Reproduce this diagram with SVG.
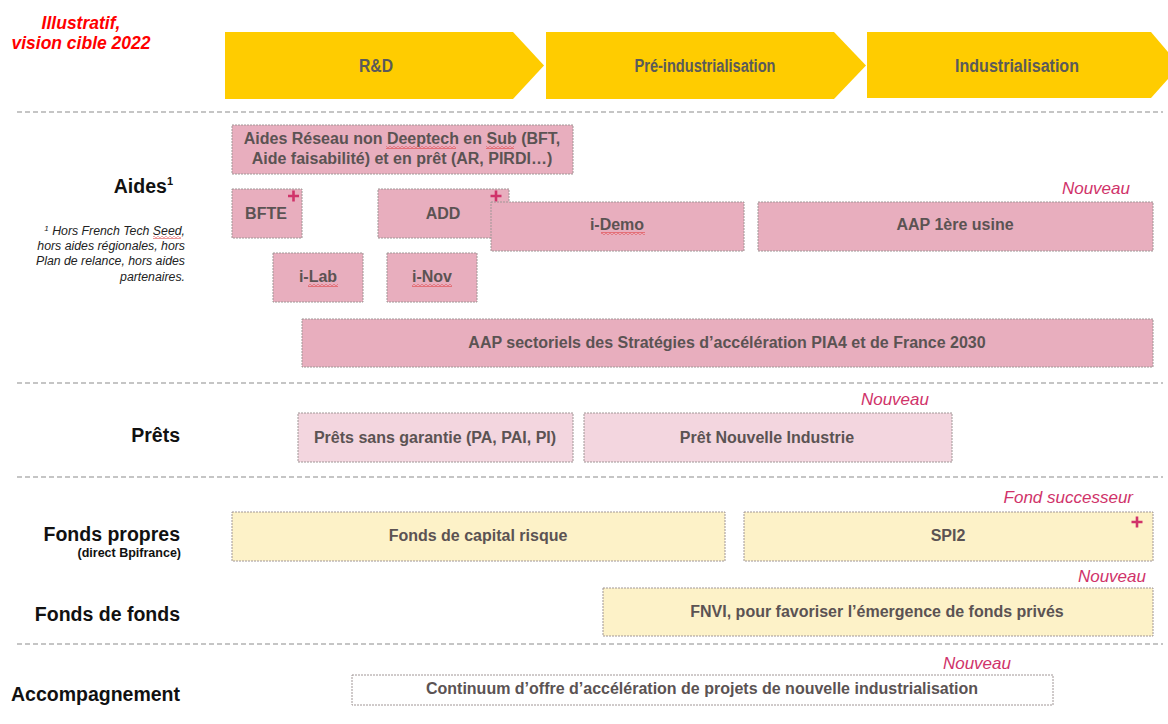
<svg xmlns="http://www.w3.org/2000/svg" width="1168" height="724" viewBox="0 0 1168 724">
<defs>
<pattern id="wavy" x="0" y="0" width="4" height="3" patternUnits="userSpaceOnUse">
<path d="M0,0.6 L2,2.4 L4,0.6" stroke="#e03030" stroke-width="0.9" fill="none"/>
</pattern>
</defs>
<style>
.sep{stroke:#8c8c8c;stroke-width:1.2;stroke-dasharray:5 3;fill:none}
.chev{fill:#FFCC00}
.chevt{font-family:"Liberation Sans",Arial,sans-serif;font-weight:bold;font-size:18px;fill:#5a5a5a;text-anchor:middle}
.box{stroke:#a09696;stroke-width:1;stroke-dasharray:2 1}
.pink{fill:#E8AEBE}
.lpink{fill:#F3D6DF}
.yel{fill:#FDF2C8}
.white{fill:#ffffff}
.bt{font-family:"Liberation Sans",Arial,sans-serif;font-weight:bold;font-size:16px;fill:#5b5353;text-anchor:middle}
.lab{font-family:"Liberation Sans",Arial,sans-serif;font-weight:bold;font-size:19.5px;fill:#111;text-anchor:end}
.sub{font-family:"Liberation Sans",Arial,sans-serif;font-weight:bold;font-size:12.5px;fill:#111;text-anchor:end}
.foot{font-family:"Liberation Sans",Arial,sans-serif;font-style:italic;font-size:12.3px;fill:#222;text-anchor:end}
.nv{font-family:"Liberation Sans",Arial,sans-serif;font-style:italic;font-size:17px;fill:#D0336A;text-anchor:end}
.red{font-family:"Liberation Sans",Arial,sans-serif;font-style:italic;font-weight:bold;font-size:17.5px;fill:#FF0000;text-anchor:middle}
.plus{stroke:#D0336A;stroke-width:2.6;fill:none}
.sq{fill:url(#wavy)}
</style>

<g id="title">
<text class="red" x="81" y="29">Illustratif,</text>
<text class="red" x="81" y="49">vision cible 2022</text>
</g>

<g id="phases">
<g id="phase-rd">
<polygon class="chev" points="225,32 513,32 544,65.5 513,99 225,99"/>
<text class="chevt" x="376" y="72" textLength="34" lengthAdjust="spacingAndGlyphs">R&amp;D</text>
</g>
<g id="phase-preind">
<polygon class="chev" points="546,32 834,32 866,65.5 834,99 546,99"/>
<text class="chevt" x="705" y="72" textLength="141" lengthAdjust="spacingAndGlyphs">Pré-industrialisation</text>
</g>
<g id="phase-ind">
<polygon class="chev" points="867,32 1151,32 1168,52 1168,79 1151,98 867,98"/>
<text class="chevt" x="1017" y="72" textLength="124" lengthAdjust="spacingAndGlyphs">Industrialisation</text>
</g>
</g>

<g id="separators">
<line class="sep" x1="17" y1="112" x2="1163" y2="112"/>
<line class="sep" x1="17" y1="383" x2="1163" y2="383"/>
<line class="sep" x1="17" y1="477" x2="1163" y2="477"/>
<line class="sep" x1="17" y1="644" x2="1163" y2="644"/>
</g>

<g id="row-labels">
<text class="lab" x="173" y="193">Aides<tspan font-size="11" dy="-8">1</tspan></text>
<text class="foot" x="185" y="235"><tspan font-size="8" dy="-4">1</tspan><tspan dy="4"> Hors French Tech Seed,</tspan></text>
<rect class="sq" x="153" y="236" width="28" height="3"/>
<text class="foot" x="185" y="250">hors aides régionales, hors</text>
<text class="foot" x="185" y="265">Plan de relance, hors aides</text>
<text class="foot" x="185" y="281">partenaires.</text>
<text class="lab" x="180" y="442">Prêts</text>
<text class="lab" x="180" y="541">Fonds propres</text>
<text class="sub" x="181" y="557">(direct Bpifrance)</text>
<text class="lab" x="180" y="621">Fonds de fonds</text>
<text class="lab" x="180" y="701">Accompagnement</text>
</g>

<g id="aides-reseau">
<rect class="box pink" x="232" y="125" width="341" height="49"/>
<text class="bt" x="402" y="144">Aides Réseau non Deeptech en Sub (BFT,</text>
<text class="bt" x="402" y="164">Aide faisabilité) et en prêt (AR, PIRDI…)</text>
<rect class="sq" x="386" y="146" width="70" height="3"/>
<rect class="sq" x="486" y="146" width="28" height="3"/>
</g>
<g id="bfte">
<rect class="box pink" x="232" y="189" width="70" height="49"/>
<text class="bt" x="266" y="219">BFTE</text>
<path class="plus" d="M288,196H299M293.5,190.5V201.5"/>
</g>
<g id="add">
<rect class="box pink" x="378" y="189" width="131" height="49"/>
<text class="bt" x="443" y="219">ADD</text>
<path class="plus" d="M490.5,196H501.5M496,190.5V201.5"/>
</g>
<g id="i-demo">
<rect class="box pink" x="491" y="202" width="253" height="49"/>
<text class="bt" x="617" y="230">i-Demo</text>
<rect class="sq" x="601" y="232" width="44" height="3"/>
</g>
<g id="aap-usine">
<rect class="box pink" x="758" y="202" width="395" height="49"/>
<text class="bt" x="955" y="230">AAP 1ère usine</text>
<text class="nv" x="1130" y="194">Nouveau</text>
</g>
<g id="i-lab">
<rect class="box pink" x="273" y="253" width="90" height="49"/>
<text class="bt" x="318" y="282">i-Lab</text>
<rect class="sq" x="308" y="284" width="30" height="3"/>
</g>
<g id="i-nov">
<rect class="box pink" x="387" y="253" width="90" height="49"/>
<text class="bt" x="432" y="282">i-Nov</text>
<rect class="sq" x="412" y="284" width="40" height="3"/>
</g>
<g id="aap-sectoriels">
<rect class="box pink" x="302" y="319" width="851" height="48"/>
<text class="bt" x="727" y="348">AAP sectoriels des Stratégies d’accélération PIA4 et de France 2030</text>
</g>

<g id="prets-sans-garantie">
<rect class="box lpink" x="298" y="413" width="275" height="49"/>
<text class="bt" x="435" y="443">Prêts sans garantie (PA, PAI, PI)</text>
</g>
<g id="pret-nouvelle-industrie">
<rect class="box lpink" x="584" y="413" width="368" height="49"/>
<text class="bt" x="767" y="443">Prêt Nouvelle Industrie</text>
<text class="nv" x="929" y="405">Nouveau</text>
</g>

<g id="fonds-capital-risque">
<rect class="box yel" x="232" y="512" width="493" height="49"/>
<text class="bt" x="478" y="541">Fonds de capital risque</text>
</g>
<g id="spi2">
<rect class="box yel" x="744" y="512" width="409" height="49"/>
<text class="bt" x="948" y="541">SPI2</text>
<path class="plus" d="M1131.5,522H1142.5M1137,516.5V527.5"/>
<text class="nv" x="1133" y="503">Fond successeur</text>
</g>
<g id="fnvi">
<rect class="box yel" x="603" y="588" width="550" height="48"/>
<text class="bt" x="877" y="617">FNVI, pour favoriser l’émergence de fonds privés</text>
<text class="nv" x="1146" y="582">Nouveau</text>
</g>

<g id="continuum">
<rect class="box white" x="352" y="675" width="701" height="30"/>
<text class="bt" x="702" y="694">Continuum d’offre d’accélération de projets de nouvelle industrialisation</text>
<text class="nv" x="1011" y="669">Nouveau</text>
</g>

<g id="connectors"></g>
</svg>
